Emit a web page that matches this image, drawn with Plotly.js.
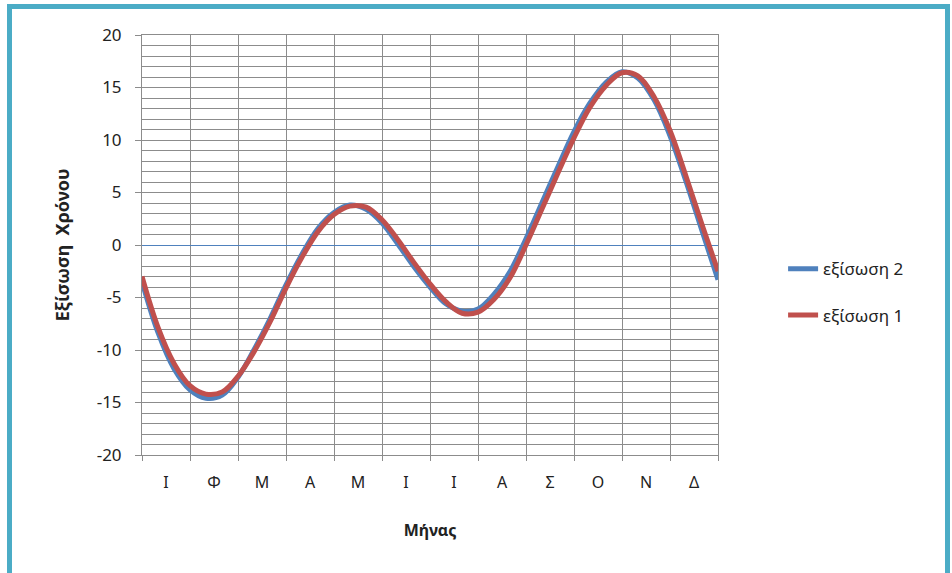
<!DOCTYPE html>
<html>
<head>
<meta charset="utf-8">
<script src="https://cdn.plot.ly/plotly-3.0.1.min.js"></script>
<style>
  html, body { margin: 0; padding: 0; background: #fff; }
  #wrap { position: relative; width: 952px; height: 573px; overflow: hidden; }
  #chart { position: absolute; left: 0; top: 0; width: 952px; height: 573px; }
  #frame { position: absolute; left: 7px; top: 4px; width: 933px; height: 600px;
           border-left: 5px solid #4bacc6; border-top: 5px solid #4bacc6; border-right: 5px solid #4bacc6;
           pointer-events: none; }
</style>
</head>
<body>
<div id="wrap">
  <div id="chart"></div>
  <div id="frame"></div>
</div>
<script>
// Month labels (Greek initials)
const monthLabels = ["Ι", "Φ", "Μ", "Α", "Μ", "Ι", "Ι", "Α", "Σ", "Ο", "Ν", "Δ"];
const monthCenters = [0.5, 1.5, 2.5, 3.5, 4.5, 5.5, 6.5, 7.5, 8.5, 9.5, 10.5, 11.5];

// Y tick labels (plain hyphen minus as in the reference)
const yTickVals = [-20, -15, -10, -5, 0, 5, 10, 15, 20];
const yTickText = ["-20", "-15", "-10", "-5", "0", "5", "10", "15", "20"];

// Sample positions in months since 1 January (every third of a month)
const xPos = [0.00, 0.33, 0.67, 1.00, 1.33, 1.67, 2.00, 2.33, 2.67, 3.00,
              3.33, 3.67, 4.00, 4.33, 4.67, 5.00, 5.33, 5.67, 6.00, 6.33,
              6.67, 7.00, 7.33, 7.67, 8.00, 8.33, 8.67, 9.00, 9.33, 9.67,
              10.00, 10.33, 10.67, 11.00, 11.33, 11.67, 12.00];

// εξίσωση 1 (red), minutes
const eq1 = [-3.0, -7.8, -11.3, -13.4, -14.2, -14.0, -12.5, -10.2, -7.3, -4.1,
             -1.2, 1.3, 2.9, 3.7, 3.6, 2.4, 0.5, -1.7, -3.7, -5.4,
             -6.5, -6.4, -5.2, -3.1, 0.0, 3.4, 6.9, 10.2, 13.1, 15.2,
             16.4, 16.1, 14.1, 10.9, 6.6, 1.9, -2.5];

// εξίσωση 2 (blue), minutes
const eq2 = [-3.5, -8.3, -11.8, -13.8, -14.6, -14.3, -12.6, -10.0, -7.0, -3.8,
             -0.9, 1.6, 3.1, 3.8, 3.4, 2.1, 0.1, -2.1, -4.0, -5.6,
             -6.3, -6.1, -4.7, -2.5, 0.6, 4.0, 7.5, 10.8, 13.5, 15.5,
             16.5, 15.9, 13.8, 10.4, 6.1, 1.3, -3.3];

const FONT = "Noto Sans, Open Sans, DejaVu Sans, sans-serif";
const GRID = "#8c8c8c";

const traces = [
  { x: xPos, y: eq2, name: "εξίσωση 2", type: "scatter", mode: "lines",
    line: { color: "#4f81bd", width: 5, shape: "spline", smoothing: 1 }, legendgroup: "b" },
  { x: xPos, y: eq1, name: "εξίσωση 1", type: "scatter", mode: "lines",
    line: { color: "#c0504d", width: 5, shape: "spline", smoothing: 1 }, legendgroup: "a" }
];

const layout = {
  width: 952, height: 573,
  margin: { l: 142, r: 234, t: 35, b: 118 },
  paper_bgcolor: "#ffffff", plot_bgcolor: "#ffffff",
  font: { family: FONT, color: "#222", size: 16 },
  showlegend: true,
  legend: { x: 1.113, xanchor: "left", y: 0.485, yanchor: "top",
            font: { family: FONT, size: 17, color: "#222" },
            traceorder: "grouped", tracegroupgap: 21, bgcolor: "rgba(0,0,0,0)" },
  xaxis: {
    range: [0, 12], tickmode: "array", tickvals: monthCenters, ticktext: monthLabels,
    showgrid: false, ticks: "", zeroline: false,
    showline: true, linecolor: GRID, linewidth: 1, mirror: true,
    ticklabelstandoff: 13,
    tickfont: { family: FONT, size: 16, color: "#222" },
    minor: { tickmode: "linear", tick0: 0, dtick: 1, showgrid: true, gridcolor: GRID, gridwidth: 1,
             ticks: "outside", ticklen: 5, tickcolor: GRID },
    title: { text: "<b>Μήνας</b>", font: { family: FONT, size: 16, color: "#222" }, standoff: 32 },
    fixedrange: true
  },
  yaxis: {
    range: [-20, 20], tickmode: "array", tickvals: yTickVals, ticktext: yTickText,
    showgrid: true, gridcolor: GRID, gridwidth: 1,
    ticks: "outside", ticklen: 6, tickcolor: GRID,
    showline: true, linecolor: GRID, linewidth: 1, mirror: true,
    zeroline: true, zerolinecolor: "#4f81bd", zerolinewidth: 1,
    ticklabelstandoff: 10,
    tickfont: { family: FONT, size: 17, color: "#222" },
    minor: { tickmode: "linear", tick0: 0, dtick: 1, showgrid: true, gridcolor: GRID, gridwidth: 1 },
    title: { text: "<b>Εξίσωση  Χρόνου</b>", font: { family: FONT, size: 18, color: "#222" }, standoff: 22 },
    fixedrange: true
  }
};

Plotly.newPlot("chart", traces, layout, { displayModeBar: false, staticPlot: true });
</script>
</body>
</html>
